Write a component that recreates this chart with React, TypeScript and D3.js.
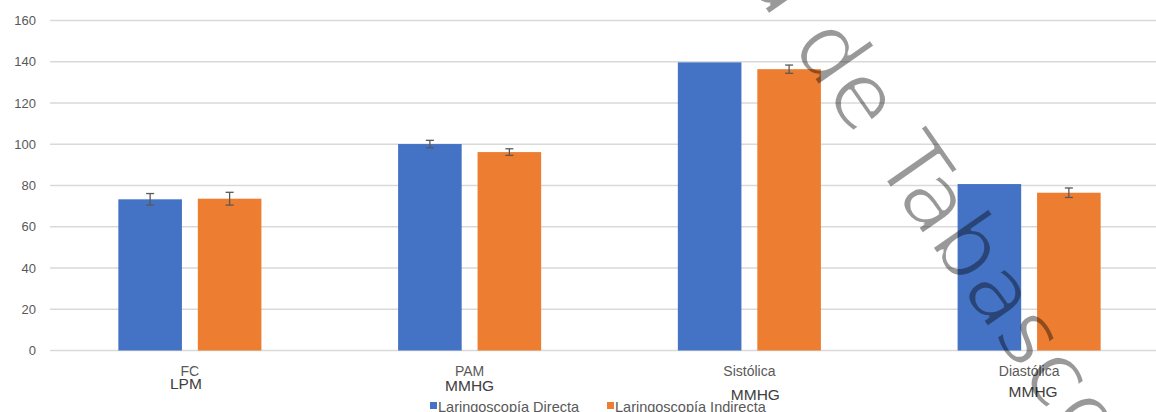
import React from "react";
import * as d3 from "d3";

const categories = ["FC", "PAM", "Sistólica", "Diastólica"];
const units = ["LPM", "MMHG", "MMHG", "MMHG"];
const seriesNames = ["Laringoscopía Directa", "Laringoscopía Indirecta"];
const directa = [73.3, 100.1, 139.7, 80.7];
const indirecta = [73.6, 96.2, 136.4, 76.5];
const errDirecta = [2.8, 1.8, 0, 0];
const errIndirecta = [3.1, 1.6, 2.0, 2.3];
const yTicks = [0, 20, 40, 60, 80, 100, 120, 140, 160];
const watermarkBefore = "Universidad Juárez Autónoma de";
const watermarkAfter = "Tabasco";

// layout (not data): unit label nudges, as placed in the original
const unitDx = [-4, 0, 6, 4];
const unitBaseline = [389, 391, 400, 397];

const W = 1156;
const H = 412;
const COLORS = ["#4472C4", "#ED7D31"];
const FONT = "'Liberation Sans', Arial, sans-serif";

export default function App() {
  const x0 = d3.scaleBand<string>().domain(categories).range([50, 1169]).padding(0);
  const x1 = d3
    .scaleBand<string>()
    .domain(seriesNames)
    .range([0, x0.bandwidth()])
    .paddingInner(0.2)
    .paddingOuter(0.86);
  const y = d3.scaleLinear().domain([0, 160]).range([350.5, 20.5]);

  const series = [
    { name: seriesNames[0], values: directa, errs: errDirecta, color: COLORS[0] },
    { name: seriesNames[1], values: indirecta, errs: errIndirecta, color: COLORS[1] },
  ];

  return (
    <svg
      width={W}
      height={H}
      style={{ position: "absolute", left: 0, top: 0, background: "#fff" }}
      fontFamily={FONT}
    >
      <defs>
        <filter id="thin" x="-10%" y="-10%" width="120%" height="120%">
          <feMorphology operator="erode" radius={0.6} />
        </filter>
      </defs>
      <rect x={0} y={0} width={W} height={H} fill="#fff" />
      {/* gridlines + y ticks */}
      {yTicks.map((t) => (
        <g key={t}>
          <line x1={50} x2={W} y1={y(t)} y2={y(t)} stroke="#d9d9d9" strokeWidth={1.5} />
          <text x={36} y={y(t)} dy="0.35em" textAnchor="end" fontSize={13} fill="#595959">
            {t}
          </text>
        </g>
      ))}
      {/* bars */}
      {series.map((s) => (
        <g key={s.name}>
          {categories.map((c, i) => {
            const bx = (x0(c) as number) + (x1(s.name) as number);
            const bw = x1.bandwidth();
            return (
              <rect
                key={c}
                x={bx}
                y={y(s.values[i])}
                width={bw}
                height={y(0) - y(s.values[i])}
                fill={s.color}
              />
            );
          })}
        </g>
      ))}
      {/* error bars */}
      {series.map((s) => (
        <g key={s.name + "-err"} stroke="#595959" strokeWidth={1.3}>
          {categories.map((c, i) => {
            if (!s.errs[i]) return null;
            const cx = (x0(c) as number) + (x1(s.name) as number) + x1.bandwidth() / 2;
            const top = y(s.values[i] + s.errs[i]);
            const bot = y(s.values[i] - s.errs[i]);
            return (
              <g key={c}>
                <line x1={cx} x2={cx} y1={top} y2={bot} />
                <line x1={cx - 4} x2={cx + 4} y1={top} y2={top} />
                <line x1={cx - 4} x2={cx + 4} y1={bot} y2={bot} />
              </g>
            );
          })}
        </g>
      ))}
      {/* category labels */}
      {categories.map((c, i) => {
        const cx = (x0(c) as number) + x0.bandwidth() / 2;
        return (
          <g key={c}>
            <text x={cx} y={376} textAnchor="middle" fontSize={14} fill="#595959">
              {c}
            </text>
            <text
              x={cx + unitDx[i]}
              y={unitBaseline[i]}
              textAnchor="middle"
              fontSize={15.5}
              fill="#404040"
            >
              {units[i]}
            </text>
          </g>
        );
      })}
      {/* legend */}
      <g fontSize={14.5} fill="#595959">
        <rect x={430} y={402} width={7} height={7} fill={COLORS[0]} />
        <text x={438} y={411.5} fill="#595959">
          {seriesNames[0]}
        </text>
        <rect x={607} y={402} width={7} height={7} fill={COLORS[1]} />
        <text x={615} y={411.5} fill="#595959">
          {seriesNames[1]}
        </text>
      </g>
      {/* watermark */}
      <g filter="url(#thin)">
        <g
          transform="translate(872,162) rotate(55)"
          fill="#000"
          fillOpacity={0.4}
          fontSize={91}
          fontFamily="'DejaVu Sans', sans-serif"
        >
          <text x={-29} y={0} textAnchor="end">
            {watermarkBefore}
          </text>
          <text x={0} y={0} textAnchor="start">
            {watermarkAfter}
          </text>
        </g>
      </g>
    </svg>
  );
}
